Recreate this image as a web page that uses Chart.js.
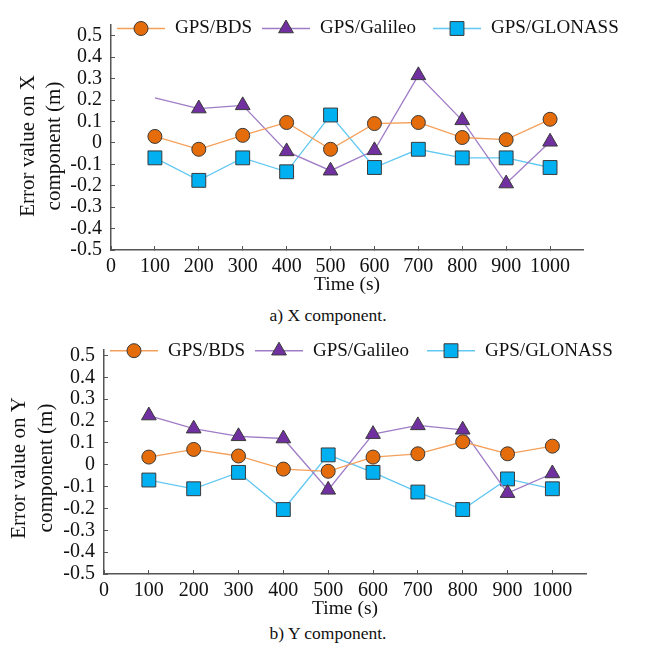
<!DOCTYPE html>
<html>
<head>
<meta charset="utf-8">
<script src="https://cdn.jsdelivr.net/npm/chart.js@4.4.1/dist/chart.umd.min.js"></script>
<style>
  html, body { margin: 0; padding: 0; background: #fff; }
  canvas { display: block; }
  .caption {
    width: 656px; height: 20px; line-height: 20px; text-align: center;
    font-family: 'Liberation Serif', 'Times New Roman', serif; font-size: 17.5px; color: #111;
  }
</style>
</head>
<body>
<canvas id="chart-x" width="656" height="305"></canvas>
<div class="caption">a) X component.</div>
<canvas id="chart-y" width="656" height="298"></canvas>
<div class="caption">b) Y component.</div>
<script>
// Time axis (s)
const timeSec = [100, 200, 300, 400, 500, 600, 700, 800, 900, 1000];
const seriesNames = ['GPS/BDS', 'GPS/Galileo', 'GPS/GLONASS'];
const xTickValues = [0, 100, 200, 300, 400, 500, 600, 700, 800, 900, 1000];
const yTickValues = [-0.5, -0.4, -0.3, -0.2, -0.1, 0, 0.1, 0.2, 0.3, 0.4, 0.5];

// a) X component error (m)
const bdsX = [0.03, -0.03, 0.035, 0.095, -0.03, 0.09, 0.095, 0.025, 0.015, 0.11];
const galileoX = [0.21, 0.16, 0.175, -0.04, -0.13, -0.035, 0.315, 0.105, -0.19, 0.005];
const glonassX = [-0.07, -0.175, -0.07, -0.135, 0.13, -0.115, -0.03, -0.07, -0.07, -0.115];

// b) Y component error (m)
const bdsY = [0.035, 0.07, 0.04, -0.02, -0.03, 0.035, 0.05, 0.105, 0.05, 0.085];
const galileoY = [0.225, 0.165, 0.13, 0.12, -0.115, 0.14, 0.18, 0.16, -0.13, -0.04];
const glonassY = [-0.07, -0.11, -0.035, -0.205, 0.045, -0.035, -0.125, -0.205, -0.065, -0.11];

const serif = "'Liberation Serif', 'Times New Roman', serif";
const textColor = '#111';
const axisColor = '#555';
const markerEdge = '#3a3a3a';
const lineColors = ['#F5A05A', '#9F7CC6', '#62C8F2'];
const fillColors = ['#E46C0A', '#7030A0', '#00B0F0'];
const markers = [
  { style: 'circle', r: 7 },
  { style: 'triangle', r: 8.5 },
  { style: 'rect', r: 9.8 }
];

function drawMarker(ctx, m, x, y, fill) {
  ctx.beginPath();
  if (m.style === 'circle') {
    ctx.arc(x, y, m.r, 0, Math.PI * 2);
  } else if (m.style === 'triangle') {
    for (let k = 0; k < 3; k++) {
      const a = -Math.PI / 2 + k * 2 * Math.PI / 3;
      const px = x + Math.cos(a) * m.r, py = y + Math.sin(a) * m.r;
      if (k === 0) ctx.moveTo(px, py); else ctx.lineTo(px, py);
    }
    ctx.closePath();
  } else {
    const h = m.r * Math.SQRT1_2;
    ctx.rect(x - h, y - h, 2 * h, 2 * h);
  }
  ctx.fillStyle = fill;
  ctx.fill();
  ctx.lineWidth = 1;
  ctx.strokeStyle = markerEdge;
  ctx.stroke();
}

// legend (line + marker + name) and two-line y title, placed like the paper figure
const decorPlugin = {
  id: 'decor',
  afterDraw(chart, args, opts) {
    const ctx = chart.ctx;
    ctx.save();
    chart.data.datasets.forEach((ds, i) => {
      const x0 = opts.legendX[i], y = opts.legendY;
      ctx.strokeStyle = ds.borderColor;
      ctx.lineWidth = 1.5;
      ctx.beginPath();
      ctx.moveTo(x0, y);
      ctx.lineTo(x0 + 48, y);
      ctx.stroke();
      drawMarker(ctx, markers[i], x0 + 24, y, fillColors[i]);
      ctx.fillStyle = textColor;
      ctx.font = '19px ' + serif;
      ctx.textAlign = 'left';
      ctx.textBaseline = 'middle';
      ctx.fillText(ds.label, x0 + 58, y);
    });
    ctx.font = '21px ' + serif;
    ctx.textAlign = 'center';
    ctx.textBaseline = 'middle';
    ctx.fillStyle = textColor;
    opts.yTitle.forEach((line, i) => {
      ctx.save();
      ctx.translate(opts.yTitleX[i], opts.yTitleY);
      ctx.rotate(-Math.PI / 2);
      ctx.fillText(line, 0, 0);
      ctx.restore();
    });
    ctx.restore();
  }
};

function buildChart(id, values, o) {
  const datasets = values.map((vals, i) => ({
    label: seriesNames[i],
    data: timeSec.map((t, k) => ({ x: t, y: vals[k] })),
    borderColor: lineColors[i],
    borderWidth: 1.3,
    backgroundColor: fillColors[i],
    pointStyle: markers[i].style,
    pointRadius: c => (o.hideFirst[i] && c.dataIndex === 0) ? 0 : markers[i].r,
    pointBackgroundColor: fillColors[i],
    pointBorderColor: markerEdge,
    pointBorderWidth: 1,
    tension: 0
  }));

  const tickFont = { family: serif, size: 20 };
  const grid = { drawOnChartArea: false, drawTicks: true, tickLength: -4, color: axisColor, lineWidth: 1 };
  const border = { color: axisColor, width: 1.5 };

  return new Chart(document.getElementById(id), {
    type: 'line',
    data: { datasets },
    plugins: [decorPlugin],
    options: {
      responsive: false,
      animation: false,
      devicePixelRatio: 1,
      layout: { padding: { left: 10, top: o.padTop, right: o.padRight, bottom: 0 } },
      scales: {
        x: {
          type: 'linear',
          min: 0,
          max: 1075,
          afterBuildTicks: s => { s.ticks = xTickValues.map(v => ({ value: v })); },
          afterFit: s => { s.height = o.xHeight; },
          ticks: { padding: 9, color: textColor, font: tickFont, maxRotation: 0, autoSkip: false, callback: v => String(v) },
          grid: grid,
          border: border,
          title: {
            display: true,
            text: 'Time (s)',
            color: textColor,
            font: { family: serif, size: 19.5 },
            padding: { top: 0, bottom: o.xTitlePad }
          }
        },
        y: {
          type: 'linear',
          min: -0.5,
          max: o.yMax,
          afterBuildTicks: s => { s.ticks = yTickValues.map(v => ({ value: v })); },
          afterFit: s => { s.width = o.yWidth; },
          ticks: { padding: 13, color: textColor, font: tickFont, autoSkip: false, callback: v => String(+v.toFixed(1)) },
          grid: grid,
          border: border
        }
      },
      plugins: {
        legend: { display: false },
        tooltip: { enabled: false },
        title: { display: false },
        decor: {
          legendX: o.legendX,
          legendY: o.legendY,
          yTitle: o.yTitle,
          yTitleX: o.yTitleX,
          yTitleY: o.yTitleY
        }
      }
    }
  });
}

buildChart('chart-x', [bdsX, galileoX, glonassX], {
  yTitle: ['Error value on X', 'component (m)'],
  hideFirst: [false, true, false],
  padTop: 7, padRight: 73, yWidth: 101, yMax: 0.55,
  xHeight: 55, xTitlePad: 8,
  legendX: [117, 262, 433], legendY: 28.5,
  yTitleX: [28, 54], yTitleY: 146
});

buildChart('chart-y', [bdsY, galileoY, glonassY], {
  yTitle: ['Error value on Y', 'component (m)'],
  hideFirst: [false, false, false],
  padTop: 8, padRight: 70, yWidth: 94, yMax: 0.525,
  xHeight: 49, xTitlePad: 2,
  legendX: [110, 255, 427], legendY: 25.7,
  yTitleX: [19, 46], yTitleY: 143
});
</script>
</body>
</html>
